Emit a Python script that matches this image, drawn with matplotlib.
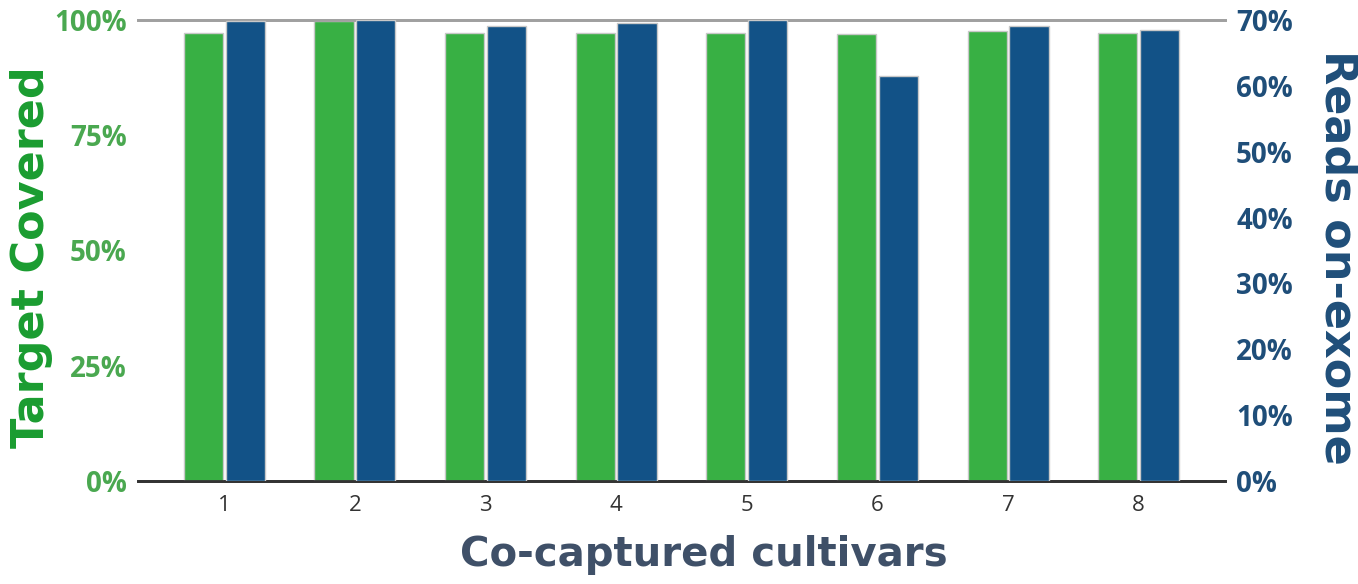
import matplotlib.pyplot as plt
import numpy as np
from matplotlib.ticker import FuncFormatter

cultivars = ["1", "2", "3", "4", "5", "6", "7", "8"]
target_covered = [97.2, 99.8, 97.2, 97.2, 97.2, 96.9, 97.6, 97.2]
reads_on_exome = [69.9, 70.0, 69.1, 69.5, 70.0, 61.5, 69.1, 68.5]

green = "#38b044"
blue = "#125287"

fig = plt.figure(figsize=(13.58, 5.84), dpi=100)
ax = fig.add_axes([0.1016, 0.1764, 0.8004, 0.7894])
ax2 = ax.twinx()

x = np.arange(1, len(cultivars) + 1)
w = 0.3

ax.bar(x - w / 2 - 0.01, target_covered, w, color=green, edgecolor="#c8c8c8", linewidth=1, zorder=3)
ax2.bar(x + w / 2 + 0.01, reads_on_exome, w, color=blue, edgecolor="#c8c8c8", linewidth=1, zorder=3)

ax.set_xlim(0.34, 8.66)
ax.set_ylim(0, 100)
ax2.set_ylim(0, 70)

ax.set_yticks([0, 25, 50, 75, 100])
ax2.set_yticks(range(0, 71, 10))
pct = FuncFormatter(lambda v, _: f"{v:.0f}%")
ax.yaxis.set_major_formatter(pct)
ax2.yaxis.set_major_formatter(pct)

ax.set_xticks(x)
ax.set_xticklabels(cultivars)

for a in (ax, ax2):
    for s in ("left", "right"):
        a.spines[s].set_visible(False)
    a.spines["top"].set_color("#a0a0a0")
    a.spines["top"].set_linewidth(2)
    a.spines["bottom"].set_color("#333333")
    a.spines["bottom"].set_linewidth(2)
    a.tick_params(axis="y", length=0, pad=8)

ax.tick_params(axis="x", length=0, pad=10, labelsize=16, labelcolor="#333333")
for t in ax.get_xticklabels():
    t.set_fontfamily("Open Sans")

for t in ax.get_yticklabels():
    t.set_fontfamily("Open Sans")
    t.set_fontweight("bold")
    t.set_fontsize(20)
    t.set_color("#4aa850")
for t in ax2.get_yticklabels():
    t.set_fontfamily("Open Sans")
    t.set_fontweight("bold")
    t.set_fontsize(20)
    t.set_color("#1f4e79")

fig.text(0.023, 0.56, "Target Covered", rotation=90, ha="center", va="center",
         fontsize=32, fontweight="bold", color="#1a9c30", family="DejaVu Sans")
fig.text(0.985, 0.56, "Reads on-exome", rotation=270, ha="center", va="center",
         fontsize=32, fontweight="bold", color="#1f4e79", family="DejaVu Sans")
fig.text(0.518, 0.05, "Co-captured cultivars", ha="center", va="center",
         fontsize=29, fontweight="bold", color="#3f5068", family="DejaVu Sans")

fig.savefig("out.png", dpi=100)
